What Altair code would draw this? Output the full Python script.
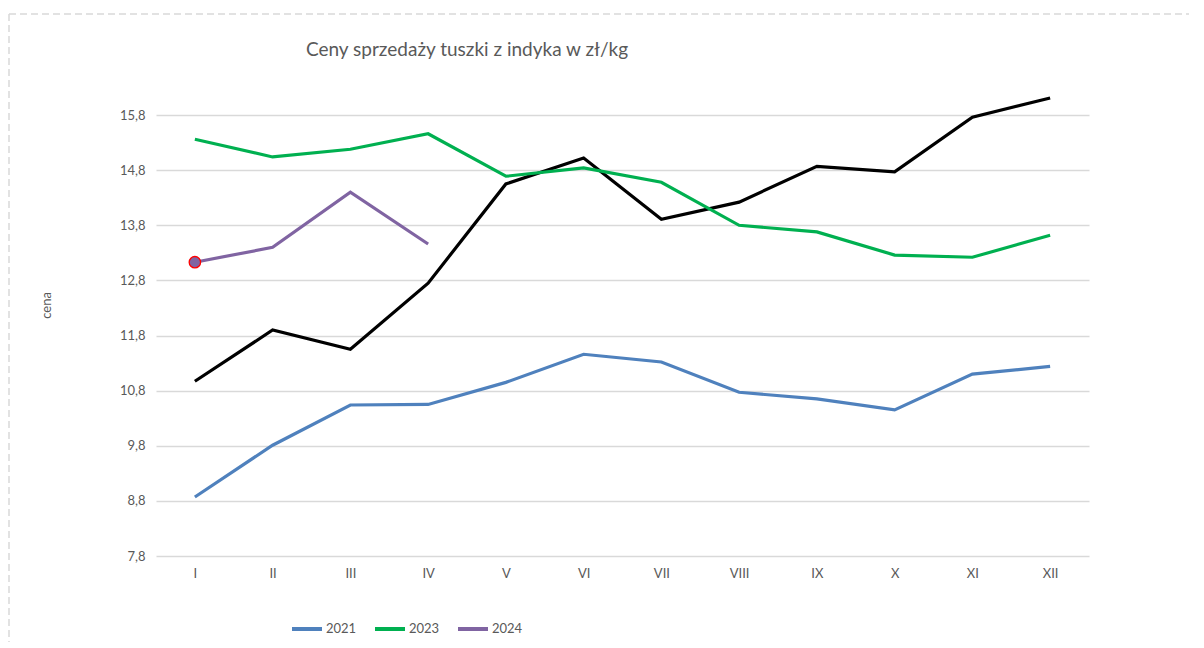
import altair as alt
import pandas as pd

months = ["I", "II", "III", "IV", "V", "VI", "VII", "VIII", "IX", "X", "XI", "XII"]
y2021 = [8.87, 9.81, 10.54, 10.55, 10.95, 11.46, 11.32, 10.77, 10.65, 10.45, 11.10, 11.24]
y2022 = [10.97, 11.90, 11.55, 12.75, 14.55, 15.02, 13.91, 14.22, 14.87, 14.77, 15.76, 16.11]
y2023 = [15.36, 15.04, 15.18, 15.46, 14.69, 14.84, 14.58, 13.80, 13.68, 13.26, 13.22, 13.62]
y2024 = [13.13, 13.40, 14.40, 13.46]
years = ["2021", "2022", "2023", "2024"]
colors = ["#4f81bd", "#000000", "#00b050", "#8064a2"]
legend_years = ["2021", "2023", "2024"]
y_ticks = [7.8, 8.8, 9.8, 10.8, 11.8, 12.8, 13.8, 14.8, 15.8]
title_text = "Ceny sprzedaży tuszki z indyka w zł/kg"
y_title = "cena"

rows = []
for yr, vals in zip(years, [y2021, y2022, y2023, y2024]):
    for m, v in zip(months, vals):
        rows.append({"miesiac": m, "rok": yr, "cena": v})
df = pd.DataFrame(rows)

FONT = "Lato"
GREY = "#595959"

x_enc = alt.X("miesiac:N", sort=months,
              scale=alt.Scale(type="point", padding=0.5, domain=months),
              axis=alt.Axis(title=None, labelAngle=0, labelColor=GREY, labelFontSize=13,
                            labelFont=FONT, labelPadding=11, ticks=False, domain=False,
                            grid=False))
y_enc = alt.Y("cena:Q", scale=alt.Scale(domain=[7.8, 16.2], nice=False, zero=False),
              axis=alt.Axis(values=y_ticks, title=y_title, titleX=-110, titleY=212,
                            titleAngle=-90, titleAlign="center", titleBaseline="middle",
                            titleFont=FONT, titleFontSize=13, titleFontWeight="normal",
                            titleColor=GREY,
                            labelExpr="replace(format(datum.value, '.1f'), '.', ',')",
                            labelColor=GREY, labelFontSize=13, labelFont=FONT,
                            labelPadding=11, ticks=False, domain=False,
                            grid=True, gridColor="#d9d9d9", gridWidth=1.3))

color_enc = alt.Color("rok:N", scale=alt.Scale(domain=years, range=colors),
                      legend=alt.Legend(values=legend_years, title=None, orient="none",
                                        legendX=134, legendY=519, direction="horizontal",
                                        columns=3, symbolType="stroke", symbolSize=900,
                                        symbolStrokeWidth=4, labelFont=FONT,
                                        labelFontSize=13, labelColor=GREY, labelOffset=2,
                                        columnPadding=10))

lines = alt.Chart(df).mark_line(strokeWidth=3.2, strokeJoin="miter", strokeCap="butt").encode(
    x=x_enc, y=y_enc, color=color_enc, detail="rok:N"
)

first_2024 = pd.DataFrame({"miesiac": [months[0]], "cena": [y2024[0]]})
marker = alt.Chart(first_2024).mark_point(shape="circle", filled=True, size=130,
                                          fill="#8064a2", stroke="#ff0000",
                                          strokeWidth=1.3, opacity=1).encode(
    x=alt.X("miesiac:N", sort=months), y="cena:Q"
)

title = alt.Chart(pd.DataFrame({"t": [title_text]})).mark_text(
    font=FONT, fontSize=19, color=GREY, align="center", baseline="middle"
).encode(x=alt.value(311), y=alt.value(-43), text="t:N")

one = pd.DataFrame({"a": [0]})
border_top = alt.Chart(one).mark_rule(color="#d9d9d9", strokeDash=[7, 4], strokeWidth=1.5).encode(
    x=alt.value(-147), x2=alt.value(1048), y=alt.value(-79)
)
border_left = alt.Chart(one).mark_rule(color="#d9d9d9", strokeDash=[7, 4], strokeWidth=1.5).encode(
    x=alt.value(-147), y=alt.value(-79), y2=alt.value(560)
)

chart = alt.layer(border_top, border_left, lines, marker, title).properties(
    width=933, height=463,
    autosize=alt.AutoSizeParams(type="none"),
    padding={"left": 148, "top": 85, "right": 100, "bottom": 86},
    background="white",
).configure_view(stroke=None)

chart.save("out.html", embed_options={"renderer": "svg", "actions": False})
